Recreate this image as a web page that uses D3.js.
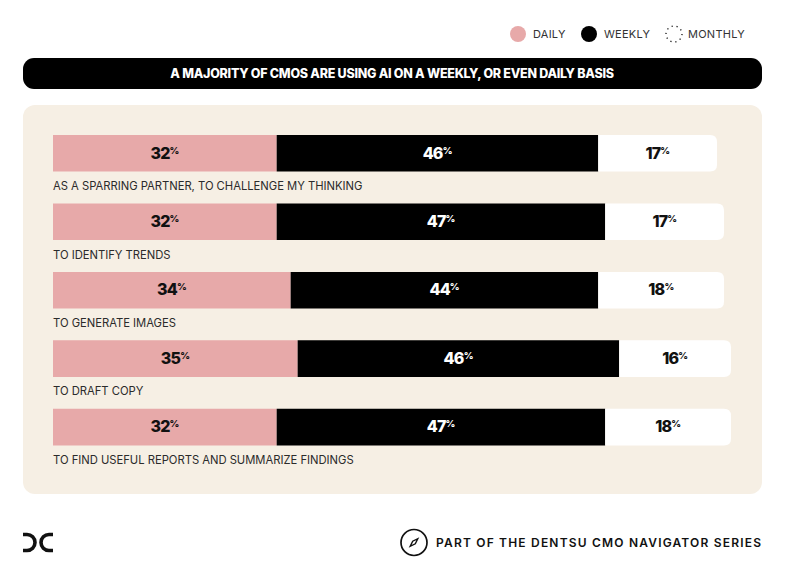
<!DOCTYPE html>
<html>
<head>
<meta charset="utf-8">
<script src="https://cdn.jsdelivr.net/npm/d3@7"></script>
<style>
  html, body { margin: 0; padding: 0; background: #fff; }
  svg { display: block; }
  text { font-family: Inter, "Noto Sans", sans-serif; }
</style>
</head>
<body>
<div id="chart"></div>
<script>
const uses = [
  "AS A SPARRING PARTNER, TO CHALLENGE MY THINKING",
  "TO IDENTIFY TRENDS",
  "TO GENERATE IMAGES",
  "TO DRAFT COPY",
  "TO FIND USEFUL REPORTS AND SUMMARIZE FINDINGS",
];
const frequencies = ["DAILY", "WEEKLY", "MONTHLY"];
const daily = [32, 32, 34, 35, 32];
const weekly = [46, 47, 44, 46, 47];
const monthly = [17, 17, 18, 16, 18];
const title = "A MAJORITY OF CMOS ARE USING AI ON A WEEKLY, OR EVEN DAILY BASIS";
const footer = "PART OF THE DENTSU CMO NAVIGATOR SERIES";

const width = 790, height = 561;
const pink = "#e7a9a9", black = "#000", cream = "#f6efe4";

const svg = d3.select("#chart").append("svg")
  .attr("width", width)
  .attr("height", height);

// legend
const legendX = [518, 589, 674];
const legendTextX = [533, 604, 688];
frequencies.forEach((f, i) => {
  const c = svg.append("circle")
    .attr("cx", legendX[i])
    .attr("cy", 34)
    .attr("r", 8);
  if (i === 0) c.attr("fill", pink);
  if (i === 1) c.attr("fill", black);
  if (i === 2) {
    c.attr("fill", "none")
      .attr("stroke", "#111")
      .attr("stroke-width", 1.3)
      .attr("stroke-dasharray", "1.2 3.8");
  }
  svg.append("text")
    .attr("x", legendTextX[i])
    .attr("y", 38.2)
    .attr("font-size", 11)
    .attr("letter-spacing", 0.25)
    .attr("fill", "#333")
    .text(f);
});

// title bar
svg.append("rect")
  .attr("x", 23).attr("y", 58)
  .attr("width", 739).attr("height", 31)
  .attr("rx", 11)
  .attr("fill", black);
svg.append("text")
  .attr("x", 392).attr("y", 78)
  .attr("text-anchor", "middle")
  .attr("font-size", 12.5)
  .attr("font-weight", 800)
  .attr("letter-spacing", -0.25)
  .attr("fill", "#fff")
  .text(title);

// panel
svg.append("rect")
  .attr("x", 23).attr("y", 105)
  .attr("width", 739).attr("height", 389)
  .attr("rx", 12)
  .attr("fill", cream);

const x = d3.scaleLinear().domain([0, 100]).range([53, 752]);
const y = d3.scaleBand()
  .domain(uses)
  .range([135, 445.4])
  .paddingInner(0.465)
  .paddingOuter(0);

const rows = uses.map((use, i) => ({
  use,
  segments: [
    { key: "daily", start: 0, value: daily[i], fill: pink, text: "#111" },
    { key: "weekly", start: daily[i], value: weekly[i], fill: black, text: "#fff" },
    { key: "monthly", start: daily[i] + weekly[i], value: monthly[i], fill: "#fff", text: "#111" },
  ],
}));

function segmentPath(d, y0, h) {
  const x0 = x(d.start), x1 = x(d.start + d.value);
  if (d.key !== "monthly") return `M${x0},${y0}H${x1}V${y0 + h}H${x0}Z`;
  const r = 7;
  return `M${x0},${y0}H${x1 - r}Q${x1},${y0} ${x1},${y0 + r}V${y0 + h - r}Q${x1},${y0 + h} ${x1 - r},${y0 + h}H${x0}Z`;
}

const row = svg.selectAll("g.row")
  .data(rows)
  .join("g")
  .attr("class", "row");

row.each(function (r) {
  const g = d3.select(this);
  const y0 = y(r.use), h = y.bandwidth();

  g.selectAll("path")
    .data(r.segments)
    .join("path")
    .attr("d", (d) => segmentPath(d, y0, h))
    .attr("fill", (d) => d.fill);

  const labels = g.selectAll("text.value")
    .data(r.segments)
    .join("text")
    .attr("class", "value")
    .attr("x", (d) => x(d.start + d.value / 2))
    .attr("y", y0 + 23.5)
    .attr("text-anchor", "middle")
    .attr("font-size", 16)
    .attr("font-weight", 800)
    .attr("letter-spacing", -0.8)
    .attr("fill", (d) => d.text);
  labels.append("tspan").text((d) => d.value);
  labels.append("tspan")
    .attr("font-size", 9.5)
    .attr("dy", -5)
    .attr("letter-spacing", -0.2)
    .text("%");

  g.append("text")
    .attr("x", x(0))
    .attr("y", y0 + h + 18.5)
    .attr("font-size", 11.25)
    .attr("letter-spacing", -0.02)
    .attr("fill", "#2b2b2b")
    .text(r.use);
});

// logo
const logo = svg.append("g")
  .attr("fill", "none")
  .attr("stroke", "#111")
  .attr("stroke-width", 3.6);
logo.append("path").attr("d", "M23,534.5H27A8,8 0 0 1 27,550.5H23");
logo.append("path").attr("d", "M53,534.5H49A8,8 0 0 0 49,550.5H53");

// compass icon
const compass = svg.append("g").attr("transform", "translate(414,542.5)");
compass.append("circle")
  .attr("r", 13)
  .attr("fill", "#fff")
  .attr("stroke", "#111")
  .attr("stroke-width", 1.7);
compass.append("path")
  .attr("d", "M3.8,-3.8L1.3,1.3L-3.8,3.8L-1.3,-1.3Z")
  .attr("fill", "none")
  .attr("stroke", "#111")
  .attr("stroke-width", 1.4);

svg.append("text")
  .attr("x", 436).attr("y", 547)
  .attr("font-size", 12)
  .attr("font-weight", 600)
  .attr("letter-spacing", 1.19)
  .attr("fill", "#111")
  .text(footer);
</script>
</body>
</html>
